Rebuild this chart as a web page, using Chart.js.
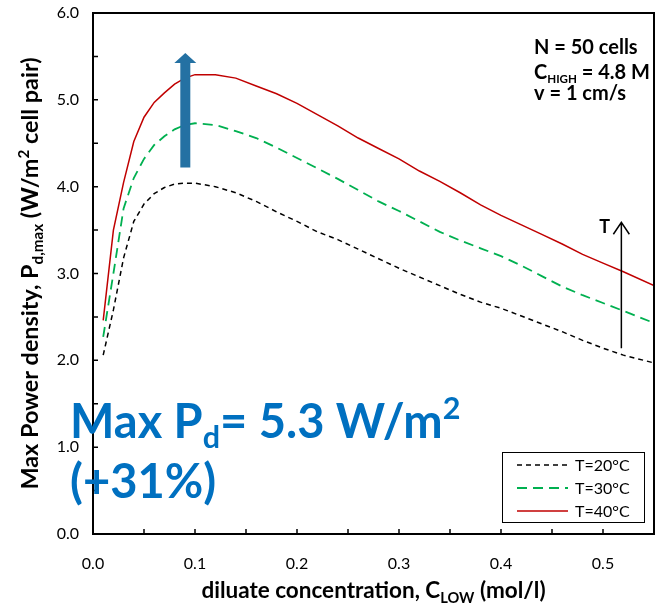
<!DOCTYPE html>
<html>
<head>
<meta charset="utf-8">
<script src="https://cdn.jsdelivr.net/npm/chart.js@4.4.1/dist/chart.umd.min.js"></script>
<style>
  html, body { margin: 0; padding: 0; background: #fff; }
</style>
</head>
<body>
<canvas id="c" width="665" height="606"></canvas>
<script>
// Data
const conc = [0.01, 0.02, 0.03, 0.04, 0.05, 0.06, 0.07, 0.08, 0.09, 0.10,
              0.12, 0.14, 0.16, 0.18, 0.20, 0.22, 0.24, 0.26, 0.28, 0.30,
              0.32, 0.34, 0.36, 0.38, 0.40, 0.42, 0.44, 0.46, 0.48, 0.50, 0.52, 0.55];
const pd20 = [2.06, 2.58, 3.18, 3.60, 3.80, 3.92, 3.99, 4.03, 4.04, 4.04,
              4.00, 3.93, 3.83, 3.71, 3.60, 3.48, 3.39, 3.28, 3.17, 3.06,
              2.96, 2.86, 2.76, 2.67, 2.60, 2.51, 2.42, 2.33, 2.23, 2.14, 2.06, 1.97];
const pd30 = [2.27, 3.00, 3.75, 4.10, 4.32, 4.48, 4.58, 4.66, 4.71, 4.73,
              4.71, 4.64, 4.56, 4.45, 4.33, 4.21, 4.09, 3.96, 3.83, 3.72,
              3.60, 3.48, 3.38, 3.29, 3.20, 3.09, 2.97, 2.85, 2.75, 2.66, 2.57, 2.43];
const pd40 = [2.46, 3.50, 4.05, 4.52, 4.80, 4.97, 5.08, 5.18, 5.25, 5.29,
              5.29, 5.25, 5.16, 5.07, 4.96, 4.83, 4.70, 4.56, 4.44, 4.32,
              4.18, 4.06, 3.93, 3.79, 3.67, 3.56, 3.45, 3.34, 3.22, 3.12, 3.02, 2.86];
const seriesLabels = ['T=20°C', 'T=30°C', 'T=40°C'];

const xTickValues = [0, 0.1, 0.2, 0.3, 0.4, 0.5];
const yTickValues = [0, 1, 2, 3, 4, 5, 6];
const xMinorTicks = [0, 0.05, 0.1, 0.15, 0.2, 0.25, 0.3, 0.35, 0.4, 0.45, 0.5, 0.55];
const yMinorTicks = [0, 0.5, 1, 1.5, 2, 2.5, 3, 3.5, 4, 4.5, 5, 5.5, 6];

const FONT = 'Lato, "Open Sans", sans-serif';
const COLORS = ['#000000', '#00B050', '#C00000'];
const DASHES = [[5, 4], [10, 6], []];

function pts(ys) { return conc.map((x, i) => ({ x, y: ys[i] })); }

// text with sub/superscript pieces: [text, 'sub'|'sup'|undefined]
function richWidth(ctx, parts, size, weight, k = 0.65) {
  let w = 0;
  parts.forEach(p => {
    ctx.font = `${weight} ${p[1] ? size * k : size}px ${FONT}`;
    w += ctx.measureText(p[0]).width;
  });
  return w;
}
function drawRich(ctx, parts, x, y, size, weight, k = 0.65) {
  parts.forEach(p => {
    ctx.font = `${weight} ${p[1] ? size * k : size}px ${FONT}`;
    const dy = p[1] === 'sub' ? size * 0.22 : p[1] === 'sup' ? -size * 0.4 : 0;
    ctx.fillText(p[0], x, y + dy);
    x += ctx.measureText(p[0]).width;
  });
}

const decorations = {
  id: 'decorations',
  afterDatasetsDraw(chart) {
    const { ctx, chartArea: a, scales: { x, y } } = chart;
    ctx.save();

    // thick blue arrow
    const ax = x.getPixelForValue(0.0905);
    const ab = y.getPixelForValue(4.22), at = y.getPixelForValue(5.54);
    ctx.fillStyle = '#2471A3';
    ctx.beginPath();
    ctx.moveTo(ax - 5, ab); ctx.lineTo(ax + 5, ab); ctx.lineTo(ax + 5, at + 10);
    ctx.lineTo(ax + 11, at + 10); ctx.lineTo(ax, at); ctx.lineTo(ax - 11, at + 10);
    ctx.lineTo(ax - 5, at + 10); ctx.closePath(); ctx.fill();

    // thin T arrow
    const tx = x.getPixelForValue(0.518);
    const tb = y.getPixelForValue(2.14), tt = y.getPixelForValue(3.59);
    ctx.strokeStyle = '#000'; ctx.lineWidth = 1.5;
    ctx.beginPath();
    ctx.moveTo(tx, tb); ctx.lineTo(tx, tt);
    ctx.moveTo(tx - 8, tt + 12); ctx.lineTo(tx, tt); ctx.lineTo(tx + 8, tt + 12);
    ctx.stroke();
    ctx.fillStyle = '#000'; ctx.textAlign = 'left'; ctx.textBaseline = 'alphabetic';
    ctx.font = `bold 18px ${FONT}`;
    ctx.fillText('T', tx - 22, tt + 11);

    // box + inside ticks
    ctx.lineWidth = 2;
    ctx.strokeRect(a.left, a.top, a.right - a.left, a.bottom - a.top);
    ctx.lineWidth = 1.5;
    ctx.beginPath();
    xMinorTicks.forEach(v => { const px = x.getPixelForValue(v); ctx.moveTo(px, a.bottom); ctx.lineTo(px, a.bottom - 5); });
    yMinorTicks.forEach(v => { const py = y.getPixelForValue(v); ctx.moveTo(a.left, py); ctx.lineTo(a.left + 5, py); });
    ctx.stroke();

    // parameter block
    drawRich(ctx, [['N = 50 cells']], 534, 54, 20, 'bold');
    drawRich(ctx, [['C'], ['HIGH', 'sub'], [' = 4.8 M']], 534, 79, 20, 'bold', 0.58);
    drawRich(ctx, [['v = 1 cm/s']], 534, 100, 20, 'bold');

    // big blue note
    ctx.fillStyle = '#0070C0';
    drawRich(ctx, [['Max P'], ['d', 'sub'], ['= 5.3 W/m'], ['2', 'sup']], 70, 438, 47, 'bold');
    drawRich(ctx, [['(+31%)']], 70, 498, 47, 'bold');

    // legend
    ctx.fillStyle = '#fff';
    ctx.fillRect(502, 452, 142, 70);
    ctx.strokeStyle = '#000'; ctx.lineWidth = 1;
    ctx.strokeRect(502.5, 452.5, 142, 70);
    seriesLabels.forEach((lab, i) => {
      const ly = 465 + i * 23;
      ctx.strokeStyle = COLORS[i]; ctx.lineWidth = i === 1 ? 2 : 1.5;
      ctx.setLineDash(DASHES[i]);
      ctx.beginPath(); ctx.moveTo(517, ly); ctx.lineTo(568, ly); ctx.stroke();
      ctx.setLineDash([]);
      ctx.fillStyle = '#000'; ctx.font = `16px ${FONT}`; ctx.textBaseline = 'middle';
      ctx.fillText(lab, 575, ly + 1);
    });
    ctx.textBaseline = 'alphabetic';

    // axis titles
    ctx.fillStyle = '#000';
    const xt = [['diluate concentration, C'], ['LOW', 'sub'], [' (mol/l)']];
    const xw = richWidth(ctx, xt, 22.5, 'bold');
    drawRich(ctx, xt, (a.left + a.right) / 2 - xw / 2, 598, 22.5, 'bold');

    const yt = [['Max Power density, P'], ['d,max', 'sub'], [' (W/m'], ['2', 'sup'], [' cell pair)']];
    const yw = richWidth(ctx, yt, 23.4, 'bold');
    ctx.translate(38, (a.top + a.bottom) / 2);
    ctx.rotate(-Math.PI / 2);
    drawRich(ctx, yt, -yw / 2, 0, 23.4, 'bold');
    ctx.restore();
  }
};

new Chart(document.getElementById('c'), {
  type: 'line',
  data: {
    datasets: [pd20, pd30, pd40].map((ys, i) => ({
      label: seriesLabels[i],
      data: pts(ys),
      borderColor: COLORS[i],
      borderWidth: i === 1 ? 1.8 : 1.5,
      borderDash: DASHES[i],
      pointRadius: 0,
      tension: 0,
      fill: false,
    })),
  },
  options: {
    responsive: false,
    devicePixelRatio: 1,
    animation: false,
    layout: { padding: { top: 13, right: 11, left: 0, bottom: 0 } },
    plugins: { legend: { display: false }, tooltip: { enabled: false } },
    scales: {
      x: {
        type: 'linear', min: 0, max: 0.55,
        afterBuildTicks: s => { s.ticks = xTickValues.map(v => ({ value: v })); },
        afterFit: s => { s.height = 72; s.paddingLeft = 0; s.paddingRight = 0; },
        grid: { display: false, drawTicks: false },
        border: { display: false },
        ticks: { padding: 20, color: '#000', font: { family: FONT, size: 16 },
                 callback: v => v.toFixed(1) },
      },
      y: {
        type: 'linear', min: 0, max: 6,
        afterBuildTicks: s => { s.ticks = yTickValues.map(v => ({ value: v })); },
        afterFit: s => { s.width = 93; s.paddingTop = 0; s.paddingBottom = 0; },
        grid: { display: false, drawTicks: false },
        border: { display: false },
        ticks: { padding: 14, color: '#000', font: { family: FONT, size: 16 },
                 callback: v => v.toFixed(1) },
      },
    },
  },
  plugins: [decorations],
});
</script>
</body>
</html>
